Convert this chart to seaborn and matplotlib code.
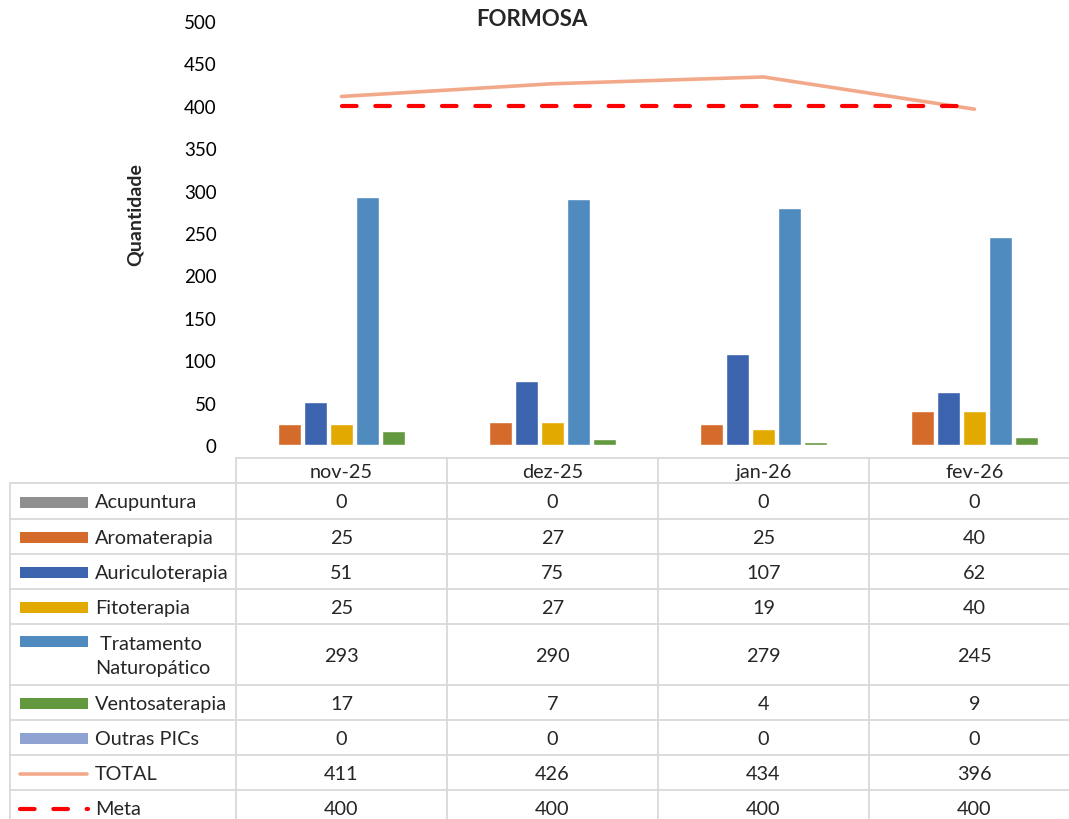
# Dependencies
import numpy as np
import pandas as pd
import seaborn as sns
import matplotlib
matplotlib.use('Agg')
import matplotlib.pyplot as plt
from matplotlib.patches import Rectangle
from matplotlib.lines import Line2D

# Data
meses = ["nov-25", "dez-25", "jan-26", "fev-26"]
series = ["Acupuntura", "Aromaterapia", "Auriculoterapia", "Fitoterapia",
          "Tratamento Naturopático", "Ventosaterapia", "Outras PICs"]
acupuntura = [0, 0, 0, 0]
aromaterapia = [25, 27, 25, 40]
auriculoterapia = [51, 75, 107, 62]
fitoterapia = [25, 27, 19, 40]
tratamento = [293, 290, 279, 245]
ventosaterapia = [17, 7, 4, 9]
outras = [0, 0, 0, 0]
total = [411, 426, 434, 396]
meta = [400, 400, 400, 400]

valores = [acupuntura, aromaterapia, auriculoterapia, fitoterapia,
           tratamento, ventosaterapia, outras]

# Colors
cores = {
    "Acupuntura": "#8F8F8F",
    "Aromaterapia": "#D46B2B",
    "Auriculoterapia": "#3C63AD",
    "Fitoterapia": "#E2AA00",
    "Tratamento Naturopático": "#4F8BBF",
    "Ventosaterapia": "#62993F",
    "Outras PICs": "#8FA3D3",
}
cor_total = "#F2A98A"
cor_meta = "#FF0000"
cor_grade = "#D9D9D9"

# long table for seaborn
rows = []
for nome, vals in zip(series, valores):
    for m, v in zip(meses, vals):
        rows.append({"mes": m, "serie": nome, "valor": v})
df = pd.DataFrame(rows)

# Style
sns.set_style("white")
plt.rcParams['font.family'] = ['Lato', 'DejaVu Sans']

W, H = 1069, 820
fig = plt.figure(figsize=(W / 100, H / 100), dpi=100)

# table layer in pixel coords
tax = fig.add_axes([0, 0, 1, 1], zorder=0)
tax.set_xlim(0, W)
tax.set_ylim(H, 0)
tax.axis('off')

# chart axes
x0, x1 = 236, 1080
y_top, y_zero = 22, 446
ax = fig.add_axes([x0 / W, 1 - y_zero / H, (x1 - x0) / W, (y_zero - y_top) / H], zorder=1)
ax.patch.set_alpha(0)

sns.barplot(
    data=df, x="mes", y="valor", hue="serie",
    order=meses, hue_order=series, palette=cores,
    width=0.8626, gap=0.135, saturation=1, legend=False,
    errorbar=None, ax=ax
)

sns.pointplot(
    x=meses, y=total, color=cor_total, markers="", linestyles="-",
    errorbar=None, linewidth=2.6, solid_capstyle='round', ax=ax
)
sns.pointplot(
    x=meses, y=meta, color=cor_meta, markers="", linestyle=(0, (3.5, 4.5)),
    errorbar=None, linewidth=3, dash_capstyle='round', ax=ax
)

ax.set_xlim(-0.5, 3.5)
ax.set_ylim(0, 500)
ax.set_yticks(range(0, 501, 50))
ax.set_xticks([])
ax.set_xlabel("")
ax.set_ylabel("")
ax.tick_params(axis='y', length=0, pad=14, labelsize=13.5, labelcolor="#000000")
for s in ax.spines.values():
    s.set_visible(False)

# title / y label
fig.text(532 / W, 1 - 20 / H, "FORMOSA", ha='center', va='center',
         fontsize=16, fontweight='bold')
fig.text(135 / W, 1 - 215 / H, "Quantidade", ha='center', va='center',
         rotation=90, fontsize=14, fontweight='bold')

# data table
col_edges = [236, 447, 658, 869, 1080]
col_centers = [(a + b) / 2 for a, b in zip(col_edges[:-1], col_edges[1:])]
row_edges = [484, 520, 555, 590, 625, 686, 721, 756, 791, 826]
head_top = 459
left = 10
lw_grid = 1.3
fs = 14.3

# grid
tax.plot([x0, W], [head_top, head_top], color=cor_grade, lw=lw_grid)
for ye in row_edges:
    tax.plot([left, W], [ye, ye], color=cor_grade, lw=lw_grid)
for xe in col_edges[:-1]:
    tax.plot([xe, xe], [head_top, H], color=cor_grade, lw=lw_grid)
tax.plot([left, left], [row_edges[0], H], color=cor_grade, lw=lw_grid)

# header
for xc, m in zip(col_centers, meses):
    tax.text(xc, (head_top + row_edges[0]) / 2 + 1, m, ha='center', va='center', fontsize=fs)

labels = ["Acupuntura", "Aromaterapia", "Auriculoterapia", "Fitoterapia",
          " Tratamento\nNaturopático", "Ventosaterapia", "Outras PICs", "TOTAL", "Meta"]
all_vals = valores + [total, meta]

for i, (lab, vals) in enumerate(zip(labels, all_vals)):
    ya, yb = row_edges[i], row_edges[i + 1]
    cy = (ya + yb) / 2 + 1
    if i == 4:
        key_y = ya + 17
    else:
        key_y = cy
    # key
    if i < 7:
        tax.add_patch(Rectangle((20, key_y - 5.5), 68, 11, color=cores[series[i]], lw=0))
    elif lab == "TOTAL":
        tax.add_line(Line2D([20, 87], [key_y, key_y], color=cor_total, lw=2.6,
                            solid_capstyle='round'))
    else:
        tax.add_line(Line2D([20, 88], [key_y, key_y], color=cor_meta, lw=3,
                            linestyle=(0, (3.5, 4.5)), dash_capstyle='round'))
    tax.text(95, cy, lab, ha='left', va='center', fontsize=fs, linespacing=1.55)
    for xc, v in zip(col_centers, vals):
        tax.text(xc, cy, str(v), ha='center', va='center', fontsize=fs)

plt.savefig("out.png", dpi=100)
plt.close("all")
